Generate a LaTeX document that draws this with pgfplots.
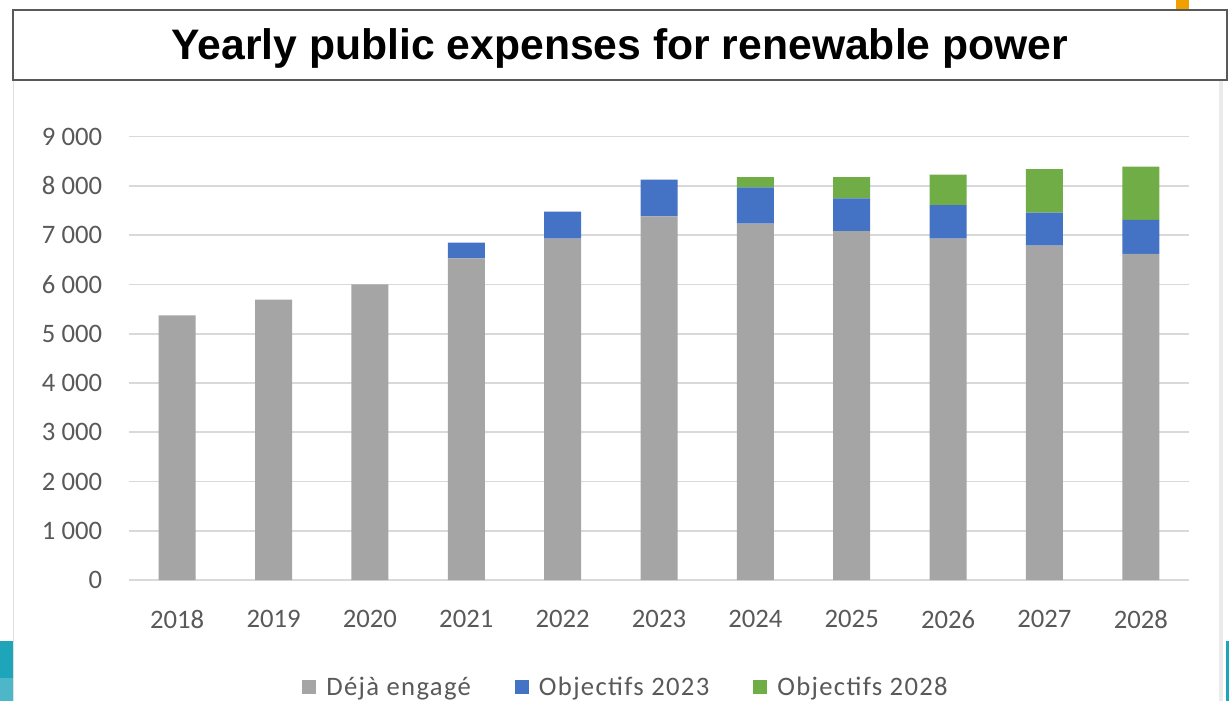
\documentclass[border=0pt]{standalone}
\usepackage{pgfplots}
\pgfplotsset{compat=1.18}
\usepackage{fontspec}
\setmainfont{Carlito}
\newfontfamily\titlefont{Liberation Sans}
\newfontfamily\legfont[LetterSpace=5]{Carlito}
\definecolor{cgray}{HTML}{A5A5A5}
\definecolor{cblue}{HTML}{4472C4}
\definecolor{cgreen}{HTML}{70AD47}
\definecolor{ctext}{HTML}{595959}
\definecolor{cgrid}{HTML}{D9D9D9}
\definecolor{cteal}{HTML}{1FA5BA}
\definecolor{cteal2}{HTML}{4DB6C8}
\definecolor{corange}{HTML}{F0A000}
\begin{document}
\begin{tikzpicture}
\useasboundingbox (0pt,0pt) rectangle (921.75pt,525.75pt);
% decorations
\fill[corange] (882pt,518.25pt) rectangle (891.75pt,525.75pt);
\fill[cteal] (0pt,17.25pt) rectangle (9.75pt,45pt);
\fill[cteal2] (0pt,0pt) rectangle (9.75pt,17.25pt);
\fill[cteal] (919.5pt,0pt) rectangle (921.75pt,45pt);
\draw[color=black!12, line width=0.75pt] (9.75pt,0pt) -- (9.75pt,465.75pt);
\fill[black!8] (914.25pt,0pt) rectangle (917.25pt,465.75pt);
% title box
\draw[color=black!65, line width=1.1pt, fill=white] (9.75pt,465.75pt) rectangle (920.25pt,518.25pt);
\node[anchor=base, inner sep=0pt] at (465pt,480.75pt) {\titlefont\bfseries\fontsize{32}{37}\selectfont Yearly public expenses for renewable power};
\begin{axis}[
  at={(96.75pt,90.75pt)}, anchor=south west,
  scale only axis, width=795pt, height=332.5pt,
  ybar stacked, bar width=27.75pt,
  xmin=-0.5, xmax=10.5, ymin=0, ymax=9000,
  xtick=data,
  xticklabels={2018,2019,2020,2021,2022,2023,2024,2025,2026,2027,2028},
  ytick={0,1000,...,9000},
  yticklabels={0,1 000,2 000,3 000,4 000,5 000,6 000,7 000,8 000,9 000},
  axis line style={draw=none}, tick style={draw=none},
  ymajorgrids, grid style={draw=cgrid, line width=1.2pt},
  xticklabel style={anchor=center, inner sep=0pt, yshift=-29.5pt, font=\fontsize{20}{24}\selectfont, text=ctext},
  yticklabel style={anchor=east, inner sep=0pt, xshift=-20pt, font=\fontsize{20}{24}\selectfont, text=ctext},
  legend columns=3,
  legend style={at={(0.468,-0.2414)}, anchor=center, draw=none, fill=none, inner sep=0pt,
    font=\legfont\fontsize{20}{24}\selectfont, text=ctext, nodes={inner sep=0pt, anchor=west},
    /tikz/every odd column/.append style={column sep=7.5pt},
    /tikz/every even column/.append style={column sep=33pt}},
  legend image code/.code={\fill[#1] (0pt,-5.25pt) rectangle (10.5pt,5.25pt);},
]
\addplot[fill=cgray, draw=none] coordinates {(0,5370) (1,5690) (2,6000) (3,6530) (4,6930) (5,7380) (6,7235) (7,7085) (8,6930) (9,6790) (10,6620)};
\addplot[fill=cblue, draw=none] coordinates {(0,0) (1,0) (2,0) (3,320) (4,550) (5,750) (6,735) (7,665) (8,680) (9,670) (10,690)};
\addplot[fill=cgreen, draw=none] coordinates {(0,0) (1,0) (2,0) (3,0) (4,0) (5,0) (6,210) (7,430) (8,620) (9,880) (10,1080)};
\legend{Déjà engagé, Objectifs 2023, Objectifs 2028}
\end{axis}
\end{tikzpicture}
\end{document}
